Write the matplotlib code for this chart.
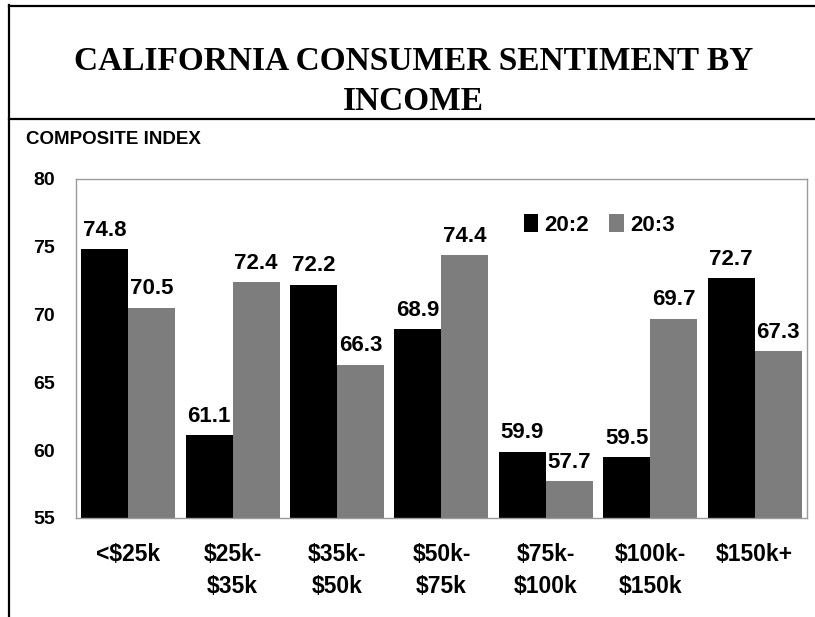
import numpy as np
import matplotlib
matplotlib.use('Agg')
import matplotlib.pyplot as plt
from matplotlib.lines import Line2D

categories = ['<$25k', '$25k-\n$35k', '$35k-\n$50k', '$50k-\n$75k',
              '$75k-\n$100k', '$100k-\n$150k', '$150k+']
q2_values = [74.8, 61.1, 72.2, 68.9, 59.9, 59.5, 72.7]
q3_values = [70.5, 72.4, 66.3, 74.4, 57.7, 69.7, 67.3]
series_names = ['20:2', '20:3']
y_ticks = [55, 60, 65, 70, 75, 80]

plt.rcParams['font.family'] = ['Liberation Sans', 'DejaVu Sans']

fig = plt.figure(figsize=(8.15, 6.17), dpi=100)
ax = fig.add_axes([0.0933, 0.1605, 0.8967, 0.5494])

x = np.arange(len(categories))
w = 0.45
b1 = ax.bar(x - w / 2, q2_values, w, color='black', label=series_names[0])
b2 = ax.bar(x + w / 2, q3_values, w, color='#7d7d7d', label=series_names[1])

for bars in (b1, b2):
    for rect in bars:
        h = rect.get_height()
        ax.annotate(f'{h:.1f}', (rect.get_x() + rect.get_width() / 2, h),
                    xytext=(0, 6), textcoords='offset points',
                    ha='center', va='bottom', fontsize=16, fontweight='bold')

ax.set_ylim(55, 80)
ax.set_xlim(-0.5, len(categories) - 0.5)
ax.set_yticks(y_ticks)
ax.set_yticklabels([str(t) for t in y_ticks], fontsize=14, fontweight='bold')
ax.set_xticks(x)
ax.set_xticklabels(categories, fontsize=16.5, fontweight='bold', linespacing=1.5)
ax.tick_params(axis='y', length=0, pad=15)
ax.tick_params(axis='x', length=0, pad=18)
for s in ax.spines.values():
    s.set_color('#9a9a9a')
    s.set_linewidth(1)

ax.legend(loc='upper left', bbox_to_anchor=(0.585, 0.955), ncol=2, frameon=False,
          prop={'size': 16, 'weight': 'bold'}, handlelength=0.65, handleheight=0.85,
          handletextpad=0.3, columnspacing=0.9)

fig.text(0.5074, 1 - 70 / 617, 'CALIFORNIA CONSUMER SENTIMENT BY', ha='center', va='baseline',
         fontsize=24, fontweight='bold', family='Liberation Serif')
fig.text(0.5074, 1 - 110 / 617, 'INCOME', ha='center', va='baseline',
         fontsize=24, fontweight='bold', family='Liberation Serif')
fig.text(0.032, 1 - 140 / 617, 'COMPOSITE INDEX', ha='left', va='center',
         fontsize=13.5, fontweight='bold')

# border lines
fig.add_artist(Line2D([9 / 815, 9 / 815], [0, 1 - 5 / 617], color='black', lw=1.6,
                      transform=fig.transFigure))
fig.add_artist(Line2D([9 / 815, 1], [1 - 6 / 617, 1 - 6 / 617], color='black', lw=1.6,
                      transform=fig.transFigure))
fig.add_artist(Line2D([9 / 815, 1], [1 - 119 / 617, 1 - 119 / 617], color='black', lw=1.6,
                      transform=fig.transFigure))

fig.savefig('out.png', dpi=100)
